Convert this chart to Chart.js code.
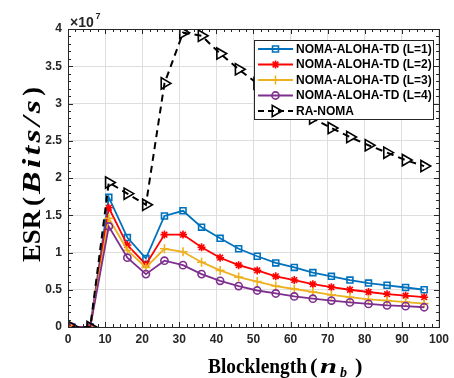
<!DOCTYPE html>
<html>
<head>
<meta charset="utf-8">
<script src="https://cdn.jsdelivr.net/npm/chart.js@4/dist/chart.umd.min.js"></script>
<style>
  html, body { margin: 0; padding: 0; background: #fff; }
  #wrap { width: 454px; height: 378px; position: relative; }
</style>
</head>
<body>
<div id="wrap"><canvas id="esrChart" width="454" height="378"></canvas></div>
<script>
// 数据 (ESR 单位: 1e7 bits/s)
const blockLength = [1, 6, 11, 16, 21, 26, 31, 36, 41, 46, 51, 56, 61, 66, 71, 76, 81, 86, 91, 96];
const esrL1 = [0, 0, 1.74, 1.20, 0.92, 1.49, 1.56, 1.34, 1.19, 1.05, 0.95, 0.86, 0.80, 0.73, 0.68, 0.63, 0.59, 0.56, 0.53, 0.50];
const esrL2 = [0, 0, 1.60, 1.10, 0.84, 1.24, 1.24, 1.07, 0.93, 0.83, 0.76, 0.68, 0.63, 0.575, 0.535, 0.50, 0.47, 0.44, 0.42, 0.40];
const esrL3 = [0, 0, 1.46, 1.03, 0.80, 1.05, 1.01, 0.87, 0.76, 0.67, 0.61, 0.55, 0.51, 0.47, 0.43, 0.40, 0.37, 0.355, 0.335, 0.315];
const esrL4 = [0, 0, 1.35, 0.93, 0.71, 0.89, 0.83, 0.71, 0.62, 0.55, 0.49, 0.45, 0.41, 0.38, 0.355, 0.33, 0.31, 0.29, 0.28, 0.265];
const esrRA = [0, 0, 1.94, 1.79, 1.64, 3.27, 3.95, 3.91, 3.67, 3.46, 3.27, 3.11, 2.95, 2.80, 2.67, 2.55, 2.44, 2.34, 2.24, 2.16];
const seriesLabels = ['NOMA-ALOHA-TD (L=1)', 'NOMA-ALOHA-TD (L=2)', 'NOMA-ALOHA-TD (L=3)', 'NOMA-ALOHA-TD (L=4)', 'RA-NOMA'];
const SCALE = 1e7;

const toPoints = arr => arr.map((v, i) => ({ x: blockLength[i], y: v * SCALE }));

// 样式
const styles = [
  { color: '#0072BD', point: 'rect', radius: 4.2, width: 1.8 },
  { color: '#FF0000', point: 'star', radius: 4, width: 1.8 },
  { color: '#EDB120', point: 'cross', radius: 4.5, width: 1.8 },
  { color: '#7E2F8E', point: 'circle', radius: 3.6, width: 1.8 },
  { color: '#000000', point: 'triangle', radius: 6.5, width: 2, dash: [7, 5], rotation: 90 }
];
const seriesData = [esrL1, esrL2, esrL3, esrL4, esrRA];

const datasets = seriesData.map((arr, i) => ({
  label: seriesLabels[i],
  data: toPoints(arr),
  borderColor: styles[i].color,
  backgroundColor: 'transparent',
  borderWidth: styles[i].width,
  borderDash: styles[i].dash || [],
  pointStyle: styles[i].point,
  pointRadius: styles[i].radius,
  pointRotation: styles[i].rotation || 0,
  pointBorderColor: styles[i].color,
  pointBackgroundColor: 'transparent',
  pointBorderWidth: 1.6,
  tension: 0,
  order: 5 - i
}));

const tickFont = { family: 'Liberation Sans, Arial', size: 12, weight: 'bold' };
const SERIF = 'Liberation Serif, Times New Roman';

// 按目标宽度绘制文字
function drawFit(ctx, text, font, x, y, targetW) {
  ctx.font = font;
  const w = ctx.measureText(text).width;
  ctx.save();
  ctx.translate(x, y);
  ctx.scale(targetW / w, 1);
  ctx.fillText(text, 0, 0);
  ctx.restore();
}

// 数学斜体: 字形略拉宽, 其余用字间距补足
function drawSpaced(ctx, text, font, x, y, targetW, stretch) {
  ctx.font = font;
  const chars = text.split('');
  const widths = chars.map(c => ctx.measureText(c).width * stretch);
  const sum = widths.reduce((s, w) => s + w, 0);
  const gap = chars.length > 1 ? (targetW - sum) / (chars.length - 1) : 0;
  let cx = x;
  chars.forEach((c, i) => {
    ctx.save();
    ctx.translate(cx, y);
    ctx.scale(stretch, 1);
    ctx.fillText(c, 0, 0);
    ctx.restore();
    cx += widths[i] + gap;
  });
}

// 外框、小刻度、坐标轴标题、图例
const decorPlugin = {
  id: 'decor',
  afterDatasetsDraw(chart) {
    const ctx = chart.ctx;
    const a = chart.chartArea;
    const xs = chart.scales.x, ys = chart.scales.y;
    ctx.save();
    ctx.strokeStyle = '#262626';
    ctx.lineWidth = 1;
    // 刻度
    ctx.beginPath();
    for (let v = 0; v <= 100; v += 2) {
      const px = Math.round(xs.getPixelForValue(v)) + 0.5;
      const len = v % 10 === 0 ? 5 : 3;
      ctx.moveTo(px, a.bottom); ctx.lineTo(px, a.bottom - len);
      ctx.moveTo(px, a.top); ctx.lineTo(px, a.top + len);
    }
    for (let k = 0; k <= 40; k++) {
      const py = Math.round(ys.getPixelForValue(k * 1e6)) + 0.5;
      const len = k % 5 === 0 ? 5 : 3;
      ctx.moveTo(a.left, py); ctx.lineTo(a.left + len, py);
      ctx.moveTo(a.right, py); ctx.lineTo(a.right - len, py);
    }
    ctx.stroke();
    ctx.strokeRect(Math.round(a.left) + 0.5, Math.round(a.top) + 0.5, Math.round(a.right - a.left), Math.round(a.bottom - a.top));

    // ×10^7
    ctx.fillStyle = '#262626';
    ctx.textBaseline = 'alphabetic';
    ctx.textAlign = 'left';
    ctx.font = 'bold 14px Liberation Sans, Arial';
    ctx.fillText('\u00d710', 70, 26.5);
    ctx.font = 'bold 9px Liberation Sans, Arial';
    ctx.fillText('7', 95.5, 18.5);

    // x 轴标题
    ctx.fillStyle = '#000';
    drawFit(ctx, 'Blocklength', 'bold 22px ' + SERIF, 208, 373, 99);
    drawFit(ctx, '(', 'bold 22px ' + SERIF, 310, 373, 7.5);
    drawFit(ctx, 'n', 'bold italic 22px ' + SERIF, 320, 373, 17);
    ctx.font = 'bold italic 14px ' + SERIF;
    ctx.fillText('b', 340, 377);
    drawFit(ctx, ')', 'bold 22px ' + SERIF, 355, 373, 7.5);

    // y 轴标题
    ctx.save();
    ctx.translate(40, 262);
    ctx.rotate(-Math.PI / 2);
    drawFit(ctx, 'ESR', 'bold 26px ' + SERIF, 0, 0, 52);
    drawFit(ctx, '(', 'bold 26px ' + SERIF, 56, 0, 9);
    drawSpaced(ctx, 'Bits/s', 'bold italic 26px ' + SERIF, 68, 0, 94, 1.3);
    drawFit(ctx, ')', 'bold 26px ' + SERIF, 166, 0, 9);
    ctx.restore();
    ctx.restore();

    // 图例
    ctx.save();
    const lx = 254.5, ly = 40.5, lw = 179, lh = 79;
    ctx.fillStyle = '#fff';
    ctx.fillRect(lx, ly, lw, lh);
    ctx.strokeStyle = '#262626';
    ctx.lineWidth = 1;
    ctx.strokeRect(lx, ly, lw, lh);
    ctx.font = 'bold 12px Liberation Sans, Arial';
    ctx.textBaseline = 'middle';
    ctx.fillStyle = '#000';
    chart.data.datasets.forEach((ds, i) => {
      const cy = 49 + i * 15.5;
      ctx.save();
      ctx.strokeStyle = ds.borderColor;
      ctx.lineWidth = ds.borderWidth;
      ctx.setLineDash(ds.borderDash.length ? [6, 4] : []);
      ctx.beginPath();
      ctx.moveTo(258, cy); ctx.lineTo(293, cy);
      ctx.stroke();
      ctx.setLineDash([]);
      ctx.lineWidth = ds.pointBorderWidth;
      ctx.fillStyle = 'transparent';
      Chart.helpers.drawPoint(ctx, {
        pointStyle: ds.pointStyle,
        rotation: ds.pointRotation,
        radius: ds.pointRadius,
        borderWidth: ds.pointBorderWidth
      }, 275.5, cy);
      ctx.restore();
      ctx.fillText(ds.label, 296, cy + 0.5);
    });
    ctx.restore();
  }
};

const ctx = document.getElementById('esrChart').getContext('2d');
new Chart(ctx, {
  type: 'line',
  data: { datasets },
  options: {
    responsive: false,
    animation: false,
    layout: { padding: { top: 29, right: 12, left: 0, bottom: 0 } },
    plugins: {
      legend: { display: false },
      tooltip: { enabled: false }
    },
    scales: {
      x: {
        type: 'linear',
        min: 0,
        max: 100,
        afterFit: s => { s.height = 51; },
        ticks: { stepSize: 10, font: tickFont, color: '#262626', padding: 5, maxRotation: 0 },
        grid: { color: '#dedede', lineWidth: 1, drawTicks: false },
        border: { display: false }
      },
      y: {
        type: 'linear',
        min: 0,
        max: 4e7,
        afterFit: s => { s.width = 68; },
        ticks: {
          stepSize: 5e6,
          font: tickFont,
          color: '#262626',
          padding: 6,
          callback: v => String(v / SCALE)
        },
        grid: { color: '#dedede', lineWidth: 1, drawTicks: false },
        border: { display: false }
      }
    }
  },
  plugins: [decorPlugin]
});
</script>
</body>
</html>
